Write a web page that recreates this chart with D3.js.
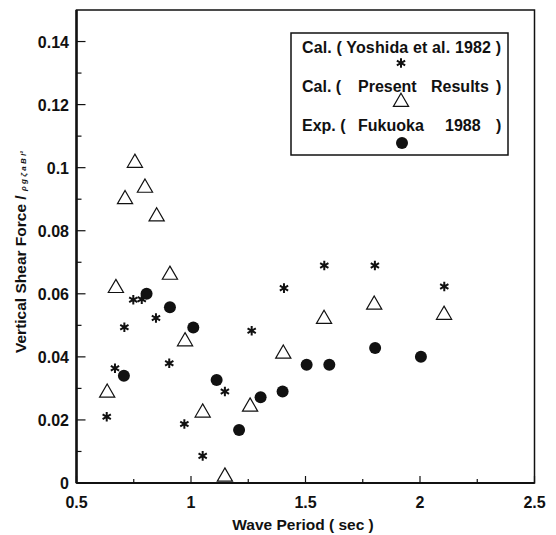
<!DOCTYPE html>
<html>
<head>
<meta charset="utf-8">
<script src="https://cdn.jsdelivr.net/npm/d3@7"></script>
<style>
  body { margin: 0; background: #fff; }
  text { font-family: "Liberation Sans", Arial, sans-serif; font-weight: bold; fill: #111; }
</style>
</head>
<body>
<svg id="chart" width="556" height="535"></svg>
<script>
// values
const xTicks = [0.5, 1, 1.5, 2, 2.5]
const yTicks = [0, 0.02, 0.04, 0.06, 0.08, 0.1, 0.12, 0.14]

const yoshidaT = [0.632, 0.668, 0.709, 0.748, 0.785, 0.847, 0.905, 0.971, 1.051, 1.148, 1.265, 1.406, 1.582, 1.803, 2.106]
const yoshidaF = [0.021, 0.0364, 0.0494, 0.0581, 0.0583, 0.0523, 0.038, 0.0187, 0.0086, 0.029, 0.0483, 0.0618, 0.069, 0.069, 0.0623]

const presentT = [0.634, 0.672, 0.712, 0.755, 0.799, 0.850, 0.908, 0.974, 1.051, 1.148, 1.258, 1.403, 1.581, 1.80, 2.105]
const presentF = [0.0286, 0.0618, 0.090, 0.1015, 0.0936, 0.0845, 0.066, 0.0449, 0.0223, 0.002, 0.0242, 0.041, 0.052, 0.0565, 0.0533]

const fukuokaT = [0.707, 0.806, 0.908, 1.01, 1.112, 1.21, 1.304, 1.40, 1.505, 1.604, 1.804, 2.004]
const fukuokaF = [0.034, 0.060, 0.0557, 0.0493, 0.0327, 0.0168, 0.0272, 0.029, 0.0375, 0.0375, 0.0428, 0.040]

// legend entries, split in the pieces the original spaces out
const legendParts = [
    ['Cal. ( Yoshida et al. 1982 )'],
    ['Cal. (', 'Present', 'Results', ')'],
    ['Exp. (', 'Fukuoka', '1988', ')']
]

const svg = d3.select('#chart')
const pL = 76.5, pR = 534.5, pT = 10, pB = 483

const x = d3.scaleLinear().domain([0.5, 2.5]).range([pL, pR])
const y = d3.scaleLinear().domain([0, 0.15]).range([pB, pT])

// frame
svg.append('rect').attr('x', pL).attr('y', pT).attr('width', pR - pL).attr('height', pB - pT)
    .style('fill', 'none').style('stroke', '#111').style('stroke-width', 1.5)
svg.append('line').attr('x1', pL).attr('x2', pL).attr('y1', pT).attr('y2', pB).style('stroke', '#111').style('stroke-width', 2.5)
svg.append('line').attr('x1', pL).attr('x2', pR).attr('y1', pB).attr('y2', pB).style('stroke', '#111').style('stroke-width', 2)

// inward ticks
const xMinor = d3.range(0.75, 2.5, 0.5)
const yMinor = d3.range(0.01, 0.15, 0.02)
svg.selectAll('.xt').data(xTicks).enter().append('line')
    .attr('x1', d => x(d)).attr('x2', d => x(d)).attr('y1', pB).attr('y2', pB - 7).style('stroke', '#111').style('stroke-width', 1.2)
svg.selectAll('.xm').data(xMinor).enter().append('line')
    .attr('x1', d => x(d)).attr('x2', d => x(d)).attr('y1', pB).attr('y2', pB - 4).style('stroke', '#111').style('stroke-width', 1.2)
svg.selectAll('.yt').data(yTicks).enter().append('line')
    .attr('x1', pL).attr('x2', pL + 9).attr('y1', d => y(d)).attr('y2', d => y(d)).style('stroke', '#111').style('stroke-width', 1.2)
svg.selectAll('.ym').data(yMinor).enter().append('line')
    .attr('x1', pL).attr('x2', pL + 5).attr('y1', d => y(d)).attr('y2', d => y(d)).style('stroke', '#111').style('stroke-width', 1.2)

// tick labels
svg.selectAll('.xl').data(xTicks).enter().append('text')
    .attr('x', d => x(d)).attr('y', 508).attr('text-anchor', 'middle').style('font-size', '16px').text(d => d)
svg.selectAll('.yl').data(yTicks).enter().append('text')
    .attr('x', 69).attr('y', d => y(d) + 6).attr('text-anchor', 'end').style('font-size', '16px').text(d => d)

// axis titles
svg.append('text').attr('x', 303).attr('y', 530).attr('text-anchor', 'middle').style('font-size', '15.5px').text('Wave Period ( sec )')
const yl = svg.append('text').attr('transform', 'translate(26,353) rotate(-90)').style('font-size', '15.5px')
yl.append('tspan').text('Vertical Shear Force / ')
yl.append('tspan').style('font-size', '8px').style('font-style', 'italic').text('ρ g ζ a B l²')

// data marks
const star = d3.symbol().type(d3.symbolAsterisk).size(64)
const tri = d3.symbol().type(d3.symbolTriangle).size(100)

svg.selectAll('.present').data(d3.zip(presentT, presentF)).enter().append('path')
    .attr('d', tri).attr('transform', d => `translate(${x(d[0])},${y(d[1])})`)
    .style('fill', '#fff').style('stroke', '#111').style('stroke-width', 1.2)
svg.selectAll('.yoshida').data(d3.zip(yoshidaT, yoshidaF)).enter().append('path')
    .attr('d', star).attr('transform', d => `translate(${x(d[0])},${y(d[1])})`)
    .style('fill', 'none').style('stroke', '#111').style('stroke-width', 2)
svg.selectAll('.fukuoka').data(d3.zip(fukuokaT, fukuokaF)).enter().append('circle')
    .attr('cx', d => x(d[0])).attr('cy', d => y(d[1])).attr('r', 6).style('fill', '#111')

// legend
svg.append('rect').attr('x', 291).attr('y', 33).attr('width', 217).attr('height', 122)
    .style('fill', '#fff').style('stroke', '#111').style('stroke-width', 1.5)
const legY = [53, 92, 131]
const partX = [[302], [302, 358, 431, 496], [302, 358, 445, 496]]
legendParts.forEach((parts, i) => {
    svg.selectAll('.lt' + i).data(parts).enter().append('text')
        .attr('x', (d, j) => partX[i][j]).attr('y', legY[i]).style('font-size', '16px')
        .attr('textLength', i == 0 ? 199 : null)
        .text(d => d)
})
svg.append('path').attr('d', star).attr('transform', 'translate(401,63)')
    .style('fill', 'none').style('stroke', '#111').style('stroke-width', 2)
svg.append('path').attr('d', tri).attr('transform', 'translate(401,102)')
    .style('fill', '#fff').style('stroke', '#111').style('stroke-width', 1.2)
svg.append('circle').attr('cx', 402).attr('cy', 143).attr('r', 6).style('fill', '#111')
</script>
</body>
</html>
